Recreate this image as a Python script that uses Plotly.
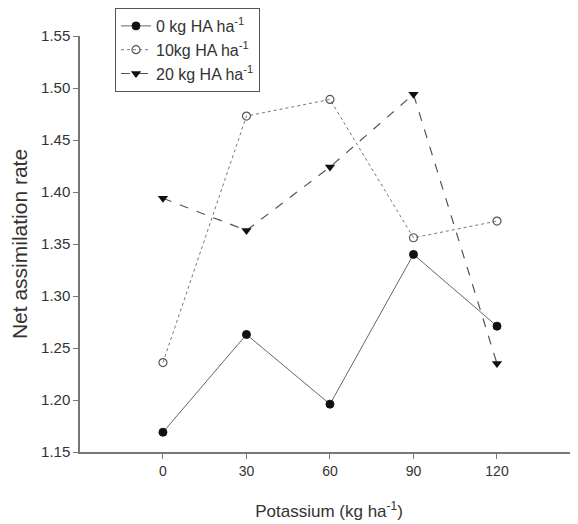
import plotly.graph_objects as go

potassium = [0, 30, 60, 90, 120]
ha0 = [1.169, 1.263, 1.196, 1.340, 1.271]
ha10 = [1.236, 1.473, 1.489, 1.356, 1.372]
ha20 = [1.394, 1.363, 1.424, 1.494, 1.235]
names = ["0 kg HA ha<sup>-1</sup>", "10kg HA ha<sup>-1</sup>", "20 kg HA ha<sup>-1</sup>"]
y_ticks = [1.15, 1.20, 1.25, 1.30, 1.35, 1.40, 1.45, 1.50, 1.55]
x_ticks = [0, 30, 60, 90, 120]

fig = go.Figure()
fig.add_trace(go.Scatter(
    x=potassium, y=ha0, name=names[0], mode="lines+markers",
    line=dict(color="#666666", width=1, dash="solid"),
    marker=dict(symbol="circle", size=8, color="#111111", line=dict(color="#111111", width=1)),
))
fig.add_trace(go.Scatter(
    x=potassium, y=ha10, name=names[1], mode="lines+markers",
    line=dict(color="#777777", width=1, dash="dot"),
    marker=dict(symbol="circle-open", size=8, color="#555555", line=dict(width=1.2)),
))
fig.add_trace(go.Scatter(
    x=potassium, y=ha20, name=names[2], mode="lines+markers",
    line=dict(color="#555555", width=1.2, dash="dash"),
    marker=dict(symbol="triangle-down", size=9, color="#111111"),
))

font_family = "Liberation Sans, Arial, sans-serif"
fig.update_layout(
    width=570, height=516,
    margin=dict(l=72, r=0, t=27, b=72),
    paper_bgcolor="white", plot_bgcolor="white",
    font=dict(family=font_family, color="#333333", size=14),
    showlegend=True,
    legend=dict(
        x=0.0703, y=1.067, xanchor="left", yanchor="top",
        bordercolor="#555555", borderwidth=1, bgcolor="white",
        font=dict(size=16, color="#333333", family=font_family),
    ),
    xaxis=dict(
        range=[-29.8, 149.1], tickvals=x_ticks, ticktext=[str(v) for v in x_ticks],
        showgrid=False, zeroline=False, showline=True, linecolor="#777777", linewidth=1.5,
        ticks="outside", ticklen=5, tickcolor="#777777",
        title=dict(text="Potassium (kg ha<sup>-1</sup>)", font=dict(size=17), standoff=28),
        tickfont=dict(size=14),
    ),
    yaxis=dict(
        range=[1.15, 1.55], tickvals=y_ticks, ticktext=["%.2f" % v for v in y_ticks],
        showgrid=False, zeroline=False, showline=True, linecolor="#777777", linewidth=1.5,
        ticks="outside", ticklen=5, tickcolor="#777777",
        title=dict(text="Net assimilation rate", font=dict(size=21), standoff=10),
        tickfont=dict(size=15),
    ),
)
fig.write_html("out.html")
